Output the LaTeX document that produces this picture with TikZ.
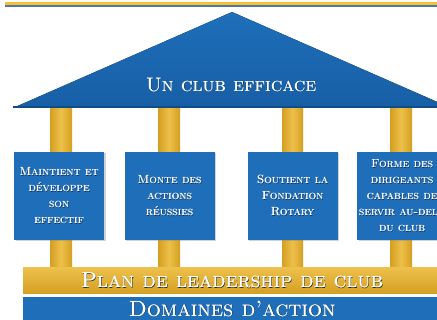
\documentclass[tikz,border=0pt]{standalone}
\usepackage{tikz}
\usetikzlibrary{positioning,shadows}

\definecolor{roofblue}{HTML}{1E6EB9}
\definecolor{deepblue}{HTML}{175FA6}
\definecolor{golddark}{HTML}{D49F22}
\definecolor{goldlight}{HTML}{EDC04A}
\definecolor{stripeyellow}{HTML}{F7C22B}
\definecolor{stripeblue}{HTML}{4A76B8}
\definecolor{shadowgray}{HTML}{1A2A40}

% white text, a little heavier, with a small dark shadow
\newcommand{\sh}[1]{\rlap{\kern0.8pt\raisebox{-0.8pt}{\color{shadowgray}#1}}\rlap{\kern0.35pt#1}#1}

\begin{document}
\begin{tikzpicture}[x=1pt,y=-1pt,
    pillar/.style={left color=golddark, right color=golddark, middle color=goldlight},
    panel/.style={fill=roofblue, minimum width=90pt, minimum height=88pt, inner sep=0pt,
        drop shadow={opacity=0.35, shadow xshift=1.5pt, shadow yshift=-1.5pt}},
    paneltext/.style={text=white, align=center, font=\fontsize{11.8}{16}\selectfont\scshape},
    bigtext/.style={text=white, font=\fontsize{19.5}{22}\selectfont\scshape}]
    \useasboundingbox (0,0) rectangle (437,320);
    \fill[white] (0,0) rectangle (437,320);
    % top stripes
    \fill[stripeyellow] (5,2.5) rectangle (437,5.5);
    \fill[stripeblue] (5,5.5) rectangle (437,7.5);
    % columns
    \fill[pillar] (50,108) rectangle (72,268);
    \fill[pillar] (158,108) rectangle (180,268);
    \fill[pillar] (282,108) rectangle (303,268);
    \fill[pillar] (390,108) rectangle (412,268);
    % roof
    \fill[top color=roofblue, bottom color=deepblue] (13,108) -- (232,12) -- (451,108) -- cycle;
    \fill[deepblue!80!black] (13,106.5) -- (451,106.5) -- (451,108.5) -- (13,108.5) -- cycle;
    \node[bigtext] (roof) at (231,85) {\sh{Un club efficace}};
    % panels
    \node[panel] (p1) at (59,196) {};
    \node[panel] (p2) at (169.5,196) {};
    \node[panel] (p3) at (292.5,196) {};
    \node[panel] (p4) at (402,196) {};
    \node[paneltext] (t1) at (p1) {\sh{Maintient et}\\\sh{développe}\\\sh{son}\\\sh{effectif}};
    \node[paneltext] (t2) at (p2) {\sh{Monte des}\\\sh{actions}\\\sh{réussies}};
    \node[paneltext] (t3) at (p3) {\sh{Soutient la}\\\sh{Fondation}\\\sh{Rotary}};
    \node[paneltext] (t4) at (p4) {\sh{Forme des}\\\sh{dirigeants}\\\sh{capables de}\\\sh{servir au-delà}\\\sh{du club}};
    % base
    \fill[top color=goldlight, bottom color=golddark] (23,268) rectangle (450,294);
    \fill[roofblue] (23,297) rectangle (450,325);
    \node[bigtext, font=\fontsize{21.5}{24}\selectfont\scshape] (plan) at (232,281) {\sh{Plan de leadership de club}};
    \node[bigtext, font=\fontsize{22}{24}\selectfont\scshape] (dom) at (232,309) {\sh{Domaines d’action}};
\end{tikzpicture}
\end{document}
